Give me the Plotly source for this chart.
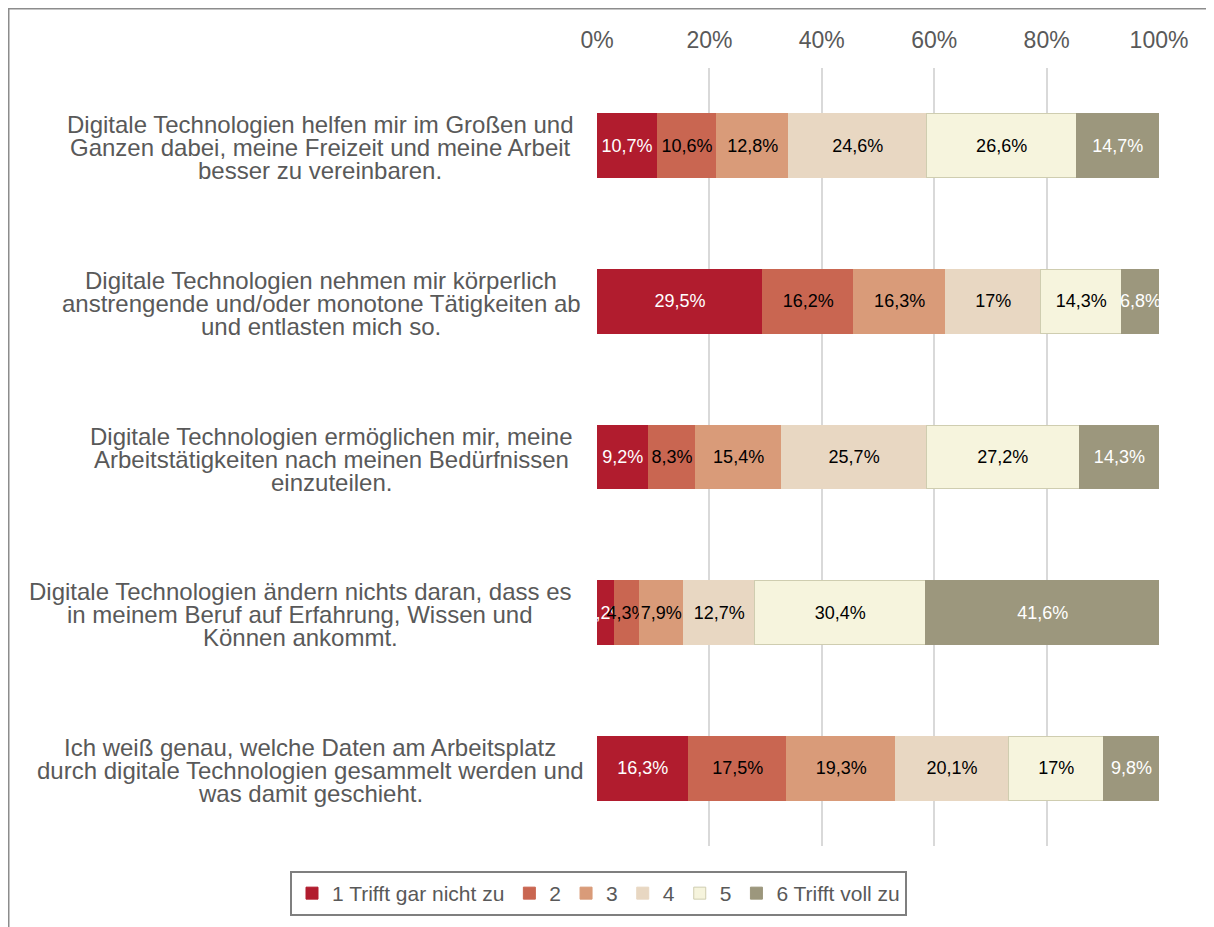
import plotly.graph_objects as go

statements = [
    ["Digitale Technologien helfen mir im Großen und", "Ganzen dabei, meine Freizeit und meine Arbeit", "besser zu vereinbaren."],
    ["Digitale Technologien nehmen mir körperlich", "anstrengende und/oder monotone Tätigkeiten ab", "und entlasten mich so."],
    ["Digitale Technologien ermöglichen mir, meine", "Arbeitstätigkeiten nach meinen Bedürfnissen", "einzuteilen."],
    ["Digitale Technologien ändern nichts daran, dass es", "in meinem Beruf auf Erfahrung, Wissen und", "Können ankommt."],
    ["Ich weiß genau, welche Daten am Arbeitsplatz", "durch digitale Technologien gesammelt werden und", "was damit geschieht."],
]
series_names = ["1 Trifft gar nicht zu", "2", "3", "4", "5", "6 Trifft voll zu"]
s1 = [10.7, 29.5, 9.2, 3.2, 16.3]
s2 = [10.6, 16.2, 8.3, 4.3, 17.5]
s3 = [12.8, 16.3, 15.4, 7.9, 19.3]
s4 = [24.6, 17.0, 25.7, 12.7, 20.1]
s5 = [26.6, 14.3, 27.2, 30.4, 17.0]
s6 = [14.7, 6.8, 14.3, 41.6, 9.8]
tick_vals = [0, 20, 40, 60, 80, 100]
tick_text = ["0%", "20%", "40%", "60%", "80%", "100%"]

colors = ["#B11C2E", "#C96651", "#D99B79", "#E8D7C2", "#F6F4DD", "#9C977D"]
text_colors = ["white", "black", "black", "black", "black", "white"]
cats = [" | ".join(s) for s in statements]


def fmt(v):
    return ("%g" % v).replace(".", ",") + "%"


fig = go.Figure()
for name, vals, col, tcol in zip(series_names, [s1, s2, s3, s4, s5, s6], colors, text_colors):
    fig.add_trace(go.Bar(
        name=name, y=cats, x=vals, orientation="h",
        marker=dict(color=col,
                    line=dict(color="#CFCDB0" if name == "5" else col, width=1)),
        text=[fmt(v) for v in vals], textposition="inside", textangle=0,
        insidetextanchor="middle", constraintext="none",
        textfont=dict(color=tcol, size=18, family="Liberation Sans, Arial"),
        width=0.41, hoverinfo="skip",
    ))

# page offset of the rendered figure inside the browser
OX, OY = 8, 10
W, H = 1214, 927
L, R, T, B = 597 - OX, W - (1159 - OX), 70 - OY, H - (848 - OY)
pw, ph = W - L - R, H - T - B


def px(x):
    return (x - OX - L) / pw


def py(y):
    return (H - B - (y - OY)) / ph


# label block centres (reference px) and line spacing
block_centres = [320, 321, 331, 300, 310]
line_gap = 23

annotations = []
for c, lines, cx in zip(cats, statements, block_centres):
    n = len(lines)
    for i, line in enumerate(lines):
        annotations.append(dict(
            x=px(cx), xref="paper", y=c, yref="y", text=line, showarrow=False,
            xanchor="center", yanchor="middle", align="center",
            yshift=-((i - (n - 1) / 2) * line_gap + 2),
            font=dict(size=24, color="#595959", family="Liberation Sans, Arial"),
        ))

fig.update_layout(
    width=W, height=H, barmode="stack",
    margin=dict(l=L, r=R, t=T, b=B),
    plot_bgcolor="white", paper_bgcolor="white",
    font=dict(family="Liberation Sans, Arial", color="#595959"),
    uniformtext=dict(mode="show", minsize=18),
    xaxis=dict(side="top", range=[0, 100], tickmode="array", tickvals=tick_vals,
               ticktext=tick_text,
               showgrid=True, gridcolor="#D9D9D9", gridwidth=2, zeroline=False,
               showline=False, tickfont=dict(size=23, color="#595959"),
               ticklabelstandoff=14, fixedrange=True),
    yaxis=dict(categoryorder="array", categoryarray=cats, autorange="reversed",
               showticklabels=False, showgrid=False, zeroline=False, showline=False),
    legend=dict(orientation="h", xref="paper", yref="paper",
                x=px(290), xanchor="left",
                y=py(873), yanchor="top",
                bordercolor="#7F7F7F", borderwidth=2,
                font=dict(size=21, color="#595959", family="Liberation Sans, Arial"),
                traceorder="normal", itemwidth=30),
    annotations=annotations,
    shapes=[
        dict(type="line", xref="paper", yref="paper", x0=px(8.5), x1=px(8.5), y0=py(9), y1=py(940),
             line=dict(color="#8C8C8C", width=2)),
        dict(type="line", xref="paper", yref="paper", x0=px(7.5), x1=px(1230), y0=py(10.5), y1=py(10.5),
             line=dict(color="#8C8C8C", width=2)),
    ],
)

fig.write_html("out.html")
